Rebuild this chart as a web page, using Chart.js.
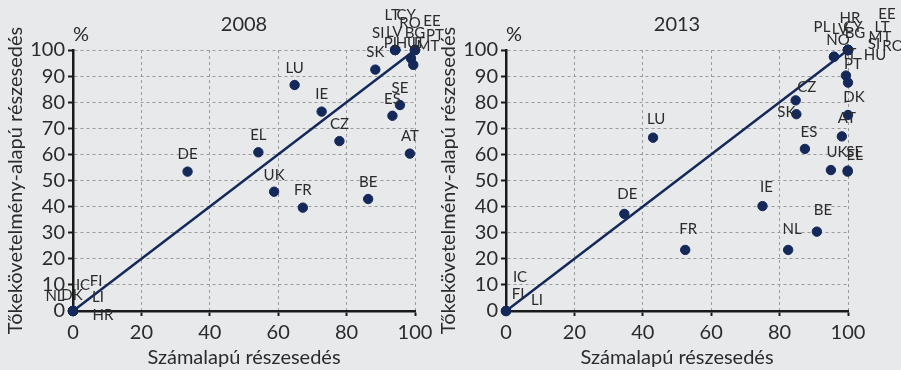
<!DOCTYPE html>
<html>
<head>
<meta charset="utf-8">
<script src="https://cdn.jsdelivr.net/npm/chart.js@4/dist/chart.umd.min.js"></script>
<style>
  html, body { margin: 0; padding: 0; background: #e8e9eb; }
  #wrap { position: relative; width: 901px; height: 370px; overflow: hidden; }
  #c2008 { position: absolute; left: 0; top: 0; }
  #c2013 { position: absolute; left: 435px; top: 0; }
</style>
</head>
<body>
<div id="wrap">
  <canvas id="c2008" width="450" height="370"></canvas>
  <canvas id="c2013" width="466" height="370"></canvas>
</div>
<script>
// 2008: x = Számalapú részesedés, y = Tőkekövetelmény-alapú részesedés (%)
const countries2008 = ['DE','EL','LU','IE','CZ','SK','UK','FR','BE','ES','SE','AT',
  'LT','CY','LV','SI','PL','RO','EE','BG','PT','MT','HU','IT',
  'NL','DK','IC','FI','LI','HR'];
const count2008 = [33.5,54.2,64.8,72.7,77.9,88.4,58.8,67.2,86.3,93.4,95.6,98.5,
  94.2,94.2,94.2,94.2,94.2,100,100,100,100,100,98.8,99.5,
  0,0,0,0,0,0];
const capital2008 = [53.4,60.8,86.6,76.4,65.1,92.5,45.7,39.6,42.9,74.8,78.9,60.3,
  100,100,100,100,100,100,100,100,100,100,96.8,94.3,
  0,0,0,0,0,0];

const countries2013 = ['LU','CZ','SK','ES','UK','SE','EL','AT','DK','IT','PT','NO','PL',
  'HR','EE','LV','CY','BG','LT','MT','SI','RO','HU',
  'IE','DE','FR','NL','BE','IC','FI','LI'];
const count2013 = [43.0,84.7,84.9,87.4,95.0,99.9,99.9,98.2,100,99.4,100,95.9,95.9,
  100,100,100,100,100,100,100,100,100,100,
  75.0,34.6,52.4,82.5,90.9,0,0,0];
const capital2013 = [66.4,80.7,75.4,62.1,54.0,53.8,53.4,66.9,75.1,90.2,87.5,97.4,97.4,
  100,100,100,100,100,100,100,100,100,100,
  40.2,37.2,23.4,23.4,30.4,0,0,0];

const diagonal = [0, 100];
const xTickStep = 20;
const yTickStep = 10;

// label placement (pixel offsets from the point), layout only
const labelOffsets2008 = {
  LT:[-3,-35], CY:[11,-35], LV:[-1,-18], SI:[-17,-17], PL:[-3,-7],
  RO:[-5,-27], EE:[17,-29], BG:[0,-17], PT:[20,-15], MT:[13,-4],
  HU:[-4,-15], IT:[5,-22],
  NL:[-18,-15], DK:[-1,-16], IC:[10,-26], FI:[23,-30], LI:[25,-14], HR:[30,4]
};
const labelOffsets2013 = {
  LU:[3,-19], CZ:[11,-13], SK:[-10,-2], ES:[4,-17], UK:[6,-18], SE:[7,-18], EL:[7,-16],
  AT:[5,-18], DK:[6,-18], IT:[4,-21], PT:[5,-18], NO:[4,-17], PL:[-12,-30],
  HR:[2,-32], EE:[39,-36], LV:[-8,-21], CY:[5,-23], BG:[7,-17], LT:[34,-23],
  MT:[32,-13], SI:[26,-6], RO:[45,-4], HU:[27,5],
  IE:[4,-19], DE:[3,-20], FR:[3,-21], NL:[4,-21], BE:[6,-21],
  IC:[14,-34], FI:[12,-17], LI:[31,-11]
};

const NAVY = '#14295a';
const TEXT = '#2b2b2b';
const FONT = 'Lato';

function make_chart(id, title, names, xs, ys, offsets, padding)
{
    const points = xs.map((x, i) => ({x: x, y: ys[i]}));

    const labels_plugin = {
        id: 'country_labels',
        afterDraw(chart) {
            const ctx = chart.ctx;
            const meta = chart.getDatasetMeta(0);
            ctx.save();
            ctx.font = '15px ' + FONT;
            ctx.fillStyle = TEXT;
            ctx.textAlign = 'center';
            ctx.textBaseline = 'middle';
            meta.data.forEach((el, i) => {
                const off = offsets[names[i]] || [0, -17];
                ctx.fillText(names[i], el.x + off[0], el.y + off[1]);
            });
            // % unit above the y axis
            ctx.font = '20px ' + FONT;
            ctx.textAlign = 'left';
            ctx.fillText('%', chart.chartArea.left, chart.chartArea.top - 15);
            ctx.restore();
        }
    };

    return new Chart(document.getElementById(id), {
        type: 'scatter',
        data: {
            datasets: [
                {
                    data: points,
                    backgroundColor: NAVY,
                    borderColor: NAVY,
                    pointRadius: 4.7,
                    clip: false
                },
                {
                    data: [{x: diagonal[0], y: diagonal[0]}, {x: diagonal[1], y: diagonal[1]}],
                    showLine: true,
                    borderColor: NAVY,
                    borderWidth: 2.5,
                    pointRadius: 0,
                    clip: false
                }
            ]
        },
        options: {
            responsive: false,
            animation: false,
            events: [],
            layout: { padding: padding },
            plugins: {
                legend: { display: false },
                tooltip: { enabled: false },
                title: {
                    display: true,
                    text: title,
                    fullSize: false,
                    color: TEXT,
                    font: { family: FONT, size: 20, weight: 'normal' },
                    padding: { top: 13, bottom: 13 }
                }
            },
            scales: {
                x: {
                    type: 'linear',
                    min: diagonal[0], max: diagonal[1],
                    afterFit: s => { s.height = 59; },
                    ticks: { stepSize: xTickStep, autoSkip: false, maxRotation: 0, color: TEXT, padding: 5,
                             font: { family: FONT, size: 20 } },
                    grid: { color: '#9a9a9a', lineWidth: 1, tickColor: '#1a1a1a', tickWidth: 2, tickLength: 5 },
                    border: { color: '#1a1a1a', width: 2.5, dash: [3, 3] },
                    title: { display: true, text: 'Számalapú részesedés', color: TEXT,
                             font: { family: FONT, size: 20 }, padding: { top: 1, bottom: 0 } }
                },
                y: {
                    type: 'linear',
                    min: diagonal[0], max: diagonal[1],
                    afterFit: s => { s.width = 71; },
                    ticks: { stepSize: yTickStep, autoSkip: false, color: TEXT, padding: 3,
                             font: { family: FONT, size: 20 } },
                    grid: { color: '#9a9a9a', lineWidth: 1, tickColor: '#1a1a1a', tickWidth: 2, tickLength: 5 },
                    border: { color: '#1a1a1a', width: 2.5, dash: [3, 3] },
                    title: { display: true, text: 'Tőkekövetelmény-alapú részesedés', color: TEXT,
                             font: { family: FONT, size: 20 }, padding: { top: 2, bottom: 2 } }
                }
            }
        },
        plugins: [labels_plugin]
    });
}

make_chart('c2008', '2008', countries2008, count2008, capital2008, labelOffsets2008,
    { left: 2, right: 35, top: 0, bottom: 0 });
make_chart('c2013', '2013', countries2013, count2013, capital2013, labelOffsets2013,
    { left: 0, right: 53, top: 0, bottom: 0 });
</script>
</body>
</html>
